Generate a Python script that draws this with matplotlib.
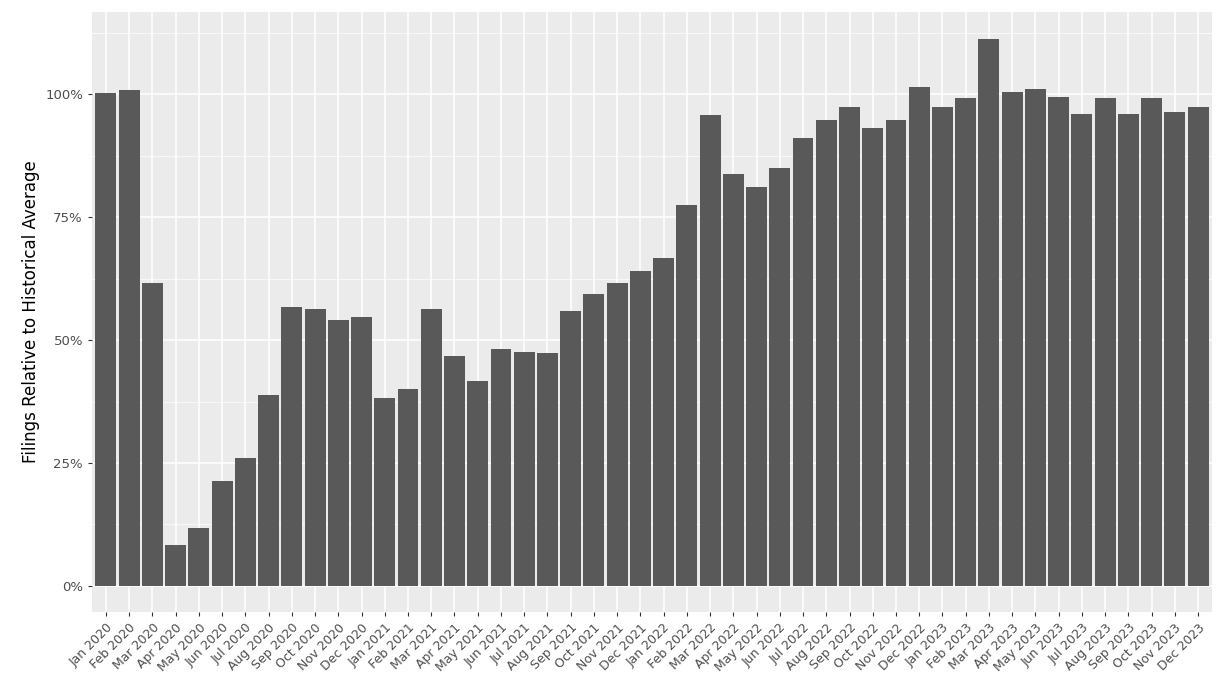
import matplotlib
matplotlib.use("Agg")
import matplotlib.pyplot as plt
import numpy as np

months = ["Jan", "Feb", "Mar", "Apr", "May", "Jun", "Jul", "Aug", "Sep", "Oct", "Nov", "Dec"]
years = [2020, 2021, 2022, 2023]
labels = [f"{m} {y}" for y in years for m in months]

# filings as fraction of historical average
values = [
    1.002, 1.008, 0.616, 0.083, 0.118, 0.213, 0.260, 0.388, 0.567, 0.563, 0.541, 0.547,
    0.382, 0.400, 0.563, 0.467, 0.417, 0.482, 0.476, 0.474, 0.559, 0.593, 0.616, 0.640,
    0.667, 0.774, 0.957, 0.837, 0.811, 0.850, 0.911, 0.947, 0.974, 0.931, 0.947, 1.014,
    0.974, 0.992, 1.112, 1.004, 1.010, 0.994, 0.959, 0.992, 0.959, 0.992, 0.963, 0.974,
]

fig = plt.figure(figsize=(12.3, 7), dpi=100)
ax = fig.add_axes([92 / 1230, 1 - 612 / 700, 1120 / 1230, 600 / 700])
ax.set_facecolor("#EBEBEB")
x = np.arange(len(values))
ax.bar(x, values, width=0.9, color="#595959", zorder=3)

ax.set_xlim(-0.6, len(values) - 0.4)
ax.set_ylim(-0.053, 1.167)
ax.set_yticks([0, 0.25, 0.5, 0.75, 1.0])
ax.set_yticklabels(["0%", "25%", "50%", "75%", "100%"])
ax.set_yticks([0.125, 0.375, 0.625, 0.875, 1.125], minor=True)
ax.set_xticks(x)
ax.set_xticklabels(labels, rotation=45, ha="right", rotation_mode="anchor", fontsize=9, color="#4D4D4D")
ax.grid(True, which="major", color="white", linewidth=1.1, zorder=0)
ax.grid(True, which="minor", axis="y", color="white", linewidth=0.5, zorder=0)
ax.tick_params(axis="y", labelsize=9.5, labelcolor="#4D4D4D", color="#333333", length=3)
ax.tick_params(axis="x", color="#333333", length=3)
ax.tick_params(which="minor", length=0)
for s in ax.spines.values():
    s.set_visible(False)
ax.set_ylabel("Filings Relative to Historical Average", fontsize=12)

fig.savefig("out.png", dpi=100)
